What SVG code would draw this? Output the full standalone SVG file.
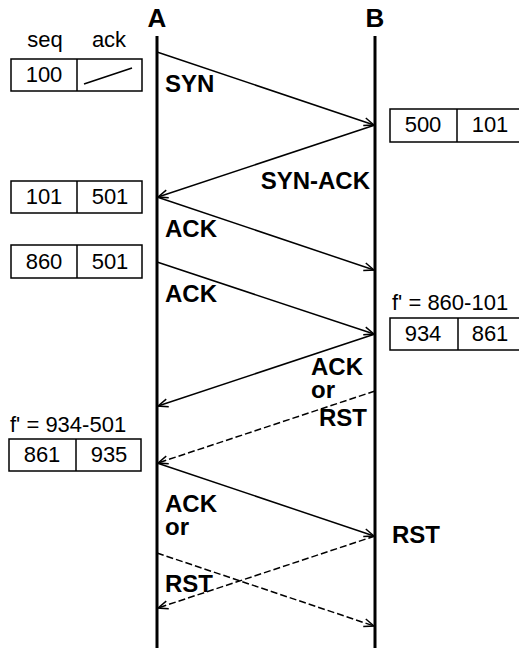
<svg xmlns="http://www.w3.org/2000/svg" width="519" height="650" viewBox="0 0 519 650">
<style>
.lbl{font-family:"Liberation Sans",Arial,sans-serif;font-weight:bold;font-size:24px;fill:#000}
.hd{font-family:"Liberation Sans",Arial,sans-serif;font-weight:bold;font-size:26px;fill:#000;text-anchor:middle}
.txt{font-family:"Liberation Sans",Arial,sans-serif;font-size:22px;fill:#000}
.num{font-family:"Liberation Sans",Arial,sans-serif;font-size:22px;fill:#000;text-anchor:middle}
.box{fill:#fff;stroke:#000;stroke-width:1.5}
.life{stroke:#000;stroke-width:3}
.msg{stroke:#000;stroke-width:1.5;fill:none;marker-end:url(#ah)}
.dash{stroke-dasharray:7,3}
</style>
<defs>
<marker id="ah" markerWidth="12" markerHeight="10" refX="11" refY="5" orient="auto" markerUnits="userSpaceOnUse" viewBox="0 0 12 10">
<path d="M1,1 L11,5 L1,9" fill="none" stroke="#000" stroke-width="1.5"/>
</marker>
</defs>
<rect width="519" height="650" fill="#fff"/>
<g id="lifeline-A">
<text class="hd" x="157" y="27">A</text>
<line class="life" x1="157" y1="36" x2="157" y2="648"/>
</g>
<g id="lifeline-B">
<text class="hd" x="375" y="27">B</text>
<line class="life" x1="375" y1="36" x2="375" y2="648"/>
</g>
<g id="headers">
<text class="num" x="45" y="47">seq</text>
<text class="num" x="109" y="47">ack</text>
</g>
<g id="boxA1">
<rect class="box" x="11" y="59" width="131" height="32"/>
<line class="box" x1="77" y1="59" x2="77" y2="91"/>
<text class="num" x="44" y="82">100</text>
<line stroke="#000" stroke-width="1.5" x1="84" y1="84" x2="132" y2="68"/>
</g>
<g id="boxB1">
<rect class="box" x="390" y="109" width="133" height="33"/>
<line class="box" x1="457" y1="109" x2="457" y2="142"/>
<text class="num" x="423" y="132">500</text>
<text class="num" x="490" y="132">101</text>
</g>
<g id="boxA2">
<rect class="box" x="11" y="181" width="131" height="32"/>
<line class="box" x1="77" y1="181" x2="77" y2="213"/>
<text class="num" x="44" y="204">101</text>
<text class="num" x="110" y="204">501</text>
</g>
<g id="boxA3">
<rect class="box" x="11" y="245" width="131" height="33"/>
<line class="box" x1="77" y1="245" x2="77" y2="278"/>
<text class="num" x="44" y="269">860</text>
<text class="num" x="110" y="269">501</text>
</g>
<g id="boxB2">
<text class="txt" x="392" y="310">f' = 860-101</text>
<rect class="box" x="390" y="318" width="133" height="32"/>
<line class="box" x1="458" y1="318" x2="458" y2="350"/>
<text class="num" x="423" y="341">934</text>
<text class="num" x="490" y="341">861</text>
</g>
<g id="boxA4">
<text class="txt" x="10" y="432">f' = 934-501</text>
<rect class="box" x="9" y="439" width="132" height="32"/>
<line class="box" x1="76" y1="439" x2="76" y2="471"/>
<text class="num" x="42" y="462">861</text>
<text class="num" x="109" y="462">935</text>
</g>
<g id="connectors">
<line class="msg" x1="157" y1="52" x2="374" y2="125"/>
<line class="msg" x1="375" y1="125" x2="158" y2="197"/>
<line class="msg" x1="157" y1="197" x2="374" y2="270"/>
<line class="msg" x1="157" y1="262" x2="374" y2="334"/>
<line class="msg" x1="375" y1="334" x2="158" y2="406"/>
<line class="msg dash" x1="375" y1="391" x2="158" y2="463"/>
<line class="msg" x1="157" y1="463" x2="374" y2="536"/>
<line class="msg dash" x1="375" y1="536" x2="158" y2="608"/>
<line class="msg dash" x1="157" y1="553" x2="374" y2="626"/>
</g>
<g id="labels">
<text class="lbl" x="165" y="92">SYN</text>
<text class="lbl" x="370" y="189" text-anchor="end">SYN-ACK</text>
<text class="lbl" x="165" y="237">ACK</text>
<text class="lbl" x="165" y="302">ACK</text>
<text class="lbl"><tspan x="311" y="375">ACK</tspan><tspan x="311" y="398">or</tspan></text>
<text class="lbl" x="319" y="426">RST</text>
<text class="lbl"><tspan x="165" y="512">ACK</tspan><tspan x="165" y="535">or</tspan></text>
<text class="lbl" x="165" y="592">RST</text>
<text class="lbl" x="392" y="543">RST</text>
</g>
</svg>
